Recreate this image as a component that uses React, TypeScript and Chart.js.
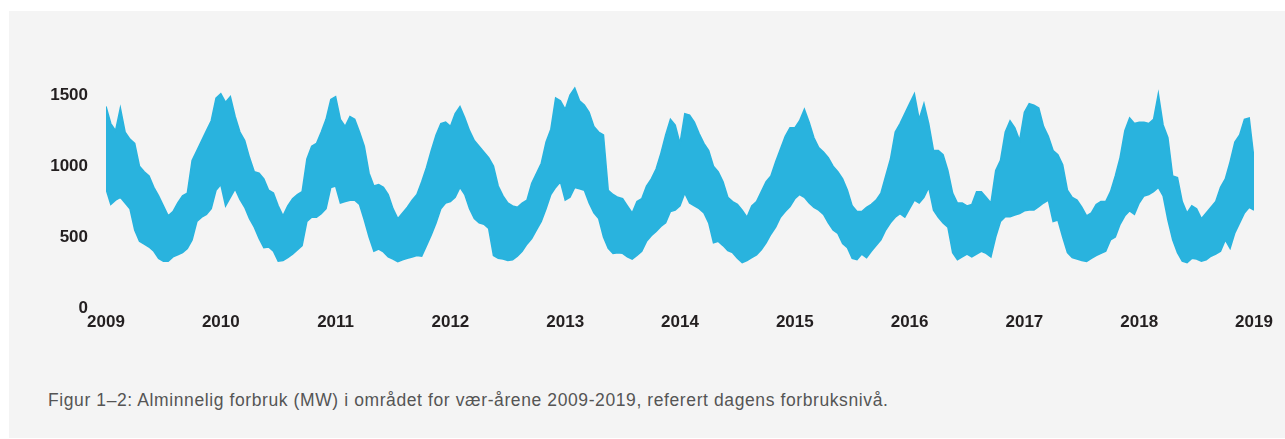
import React, { useEffect, useRef } from "react";
import { Chart, registerables } from "chart.js";

Chart.register(...registerables);

// Tick labels
const YEAR_TICKS = [2009, 2010, 2011, 2012, 2013, 2014, 2015, 2016, 2017, 2018, 2019];
const MW_TICKS = [0, 500, 1000, 1500];

// Samples: twice a month (24 per year) from 2009.0 to 2019.0
const SAMPLES_PER_YEAR = 24;
const START_YEAR = 2009;

// Upper envelope of the consumption band (MW)
const upperMW = [
  1420, 1300, 1250, 1410, 1240, 1190, 1160, 1000, 960, 930, 850, 790, 720, 650, 680, 740, 790, 810, 1040, 1110, 1180, 1250, 1320, 1480,
  1510, 1450, 1490, 1350, 1240, 1180, 1060, 960, 950, 910, 830, 810, 720, 650, 720, 770, 800, 820, 1050, 1140, 1160, 1240, 1330, 1470,
  1490, 1330, 1280, 1350, 1330, 1240, 1140, 950, 860, 870, 850, 800, 700, 630, 670, 710, 760, 800, 890, 990, 1110, 1220, 1300, 1310,
  1280, 1370, 1420, 1340, 1250, 1180, 1140, 1100, 1060, 1000, 860, 790, 740, 720, 710, 740, 760, 880, 950, 1020, 1170, 1260, 1480, 1460,
  1400, 1500, 1550, 1460, 1430, 1380, 1280, 1240, 1220, 830, 800, 780, 770, 720, 670, 750, 770, 860, 910, 980, 1090, 1220, 1330, 1290,
  1160, 1370, 1360, 1310, 1230, 1160, 1110, 1000, 960, 890, 780, 750, 730, 690, 640, 720, 750, 820, 890, 930, 1030, 1120, 1210, 1270,
  1270, 1320, 1400, 1310, 1200, 1130, 1100, 1060, 1000, 960, 910, 830, 720, 680, 680, 710, 730, 760, 810, 930, 1050, 1240, 1300, 1370,
  1440, 1510, 1330, 1440, 1300, 1110, 1110, 1080, 970, 810, 740, 740, 720, 730, 820, 820, 780, 740, 970, 1040, 1240, 1320, 1270, 1180,
  1380, 1440, 1430, 1410, 1280, 1210, 1110, 1080, 1010, 830, 780, 760, 710, 650, 670, 730, 750, 750, 820, 930, 1060, 1250, 1340, 1300,
  1310, 1310, 1300, 1330, 1510, 1290, 1200, 930, 920, 750, 670, 720, 700, 630, 670, 710, 750, 850, 910, 1030, 1170, 1220, 1330, 1340,
  1050,
];

// Lower envelope of the consumption band (MW)
const lowerMW = [
  840, 730, 760, 780, 740, 700, 550, 470, 450, 430, 400, 350, 330, 330, 360, 375, 390, 420, 480, 610, 640, 660, 700, 830,
  870, 720, 780, 840, 765, 710, 630, 570, 490, 425, 430, 400, 330, 335, 355, 380, 410, 440, 610, 640, 640, 665, 700, 850,
  860, 740, 750, 760, 760, 730, 620, 500, 400, 415, 395, 360, 345, 326, 340, 350, 360, 370, 365, 440, 515, 600, 700, 740,
  750, 780, 850, 800, 700, 630, 600, 590, 560, 370, 350, 345, 335, 340, 365, 400, 450, 490, 550, 610, 700, 800, 850, 890,
  760, 780, 850, 840, 830, 740, 670, 630, 500, 420, 385, 390, 385, 360, 345, 370, 400, 470, 510, 540, 575, 600, 680, 690,
  720, 810, 740, 720, 700, 670, 600, 460, 470, 440, 405, 390, 350, 320, 335, 355, 375, 410, 460, 520, 570, 640, 680, 715,
  770, 800, 780, 740, 710, 690, 660, 600, 550, 525, 455, 425, 350, 340, 380, 355, 400, 440, 480, 550, 600, 640, 665, 640,
  700, 760, 740, 780, 850, 690, 640, 600, 570, 390, 340, 360, 380, 360, 380, 400, 385, 360, 500, 610, 643, 643, 655, 665,
  685, 690, 690, 715, 740, 760, 610, 620, 500, 390, 355, 345, 335, 328, 350, 370, 385, 400, 480, 500, 590, 650, 685, 660,
  740, 790, 800, 820, 850, 790, 620, 480, 390, 330, 320, 350, 345, 330, 340, 365, 380, 400, 480, 420, 530, 600, 670, 710,
  690,
];

const CAPTION =
  "Figur 1–2: Alminnelig forbruk (MW) i området for vær-årene 2009-2019, referert dagens forbruksnivå.";

const BLUE = "#29b3de";
const FONT = '"Liberation Sans", Arial, Helvetica, sans-serif';

export default function App() {
  const canvasRef = useRef<HTMLCanvasElement>(null);

  useEffect(() => {
    const canvas = canvasRef.current;
    if (!canvas) return;
    const toPoints = (arr: number[]) =>
      arr.map((v, i) => ({ x: START_YEAR + i / SAMPLES_PER_YEAR, y: v }));

    const tickFont = { family: FONT, size: 17, weight: "bold" as const };

    const chart = new Chart(canvas, {
      type: "line",
      data: {
        datasets: [
          {
            data: toPoints(upperMW),
            borderColor: BLUE,
            backgroundColor: BLUE,
            borderWidth: 1.5,
            pointRadius: 0,
            tension: 0,
            fill: "+1",
          },
          {
            data: toPoints(lowerMW),
            borderColor: BLUE,
            backgroundColor: BLUE,
            borderWidth: 1.5,
            pointRadius: 0,
            tension: 0,
            fill: false,
          },
        ],
      },
      options: {
        animation: false,
        responsive: false,
        devicePixelRatio: 1,
        layout: { padding: { left: 0, right: 31, top: 81, bottom: 0 } },
        plugins: {
          legend: { display: false },
          tooltip: { enabled: false },
        },
        scales: {
          x: {
            type: "linear",
            min: 2009,
            max: 2019,
            grid: { display: false, drawTicks: false },
            border: { display: false },
            afterBuildTicks: (s: any) => {
              s.ticks = YEAR_TICKS.map((v) => ({ value: v }));
            },
            afterFit: (s: any) => {
              s.height = 37;
            },
            ticks: {
              padding: 4,
              color: "#231f20",
              font: tickFont,
              maxRotation: 0,
              autoSkip: false,
              callback: (v: any) => String(v),
            },
          },
          y: {
            type: "linear",
            min: 0,
            max: 1600,
            grid: { display: false, drawTicks: false },
            border: { display: false },
            afterBuildTicks: (s: any) => {
              s.ticks = MW_TICKS.map((v) => ({ value: v }));
            },
            afterFit: (s: any) => {
              s.width = 106;
            },
            ticks: {
              padding: 18,
              color: "#231f20",
              font: tickFont,
              callback: (v: any) => String(v),
            },
          },
        },
      },
    });
    return () => chart.destroy();
  }, []);

  return (
    <div
      style={{
        position: "fixed",
        left: 0,
        top: 0,
        width: 1285,
        height: 439,
        background: "#ffffff",
        overflow: "hidden",
      }}
    >
      <div
        style={{
          position: "absolute",
          left: 9,
          top: 11,
          width: 1276,
          height: 427,
          background: "#f4f4f4",
        }}
      />
      <canvas
        ref={canvasRef}
        width={1285}
        height={345}
        style={{ position: "absolute", left: 0, top: 0, width: 1285, height: 345, display: "block" }}
      />
      <div
        style={{
          position: "absolute",
          left: 48,
          top: 390,
          fontFamily: FONT,
          fontSize: 17.5,
          letterSpacing: "0.6px",
          color: "#555555",
          whiteSpace: "nowrap",
          lineHeight: "20px",
        }}
      >
        {CAPTION}
      </div>
    </div>
  );
}
